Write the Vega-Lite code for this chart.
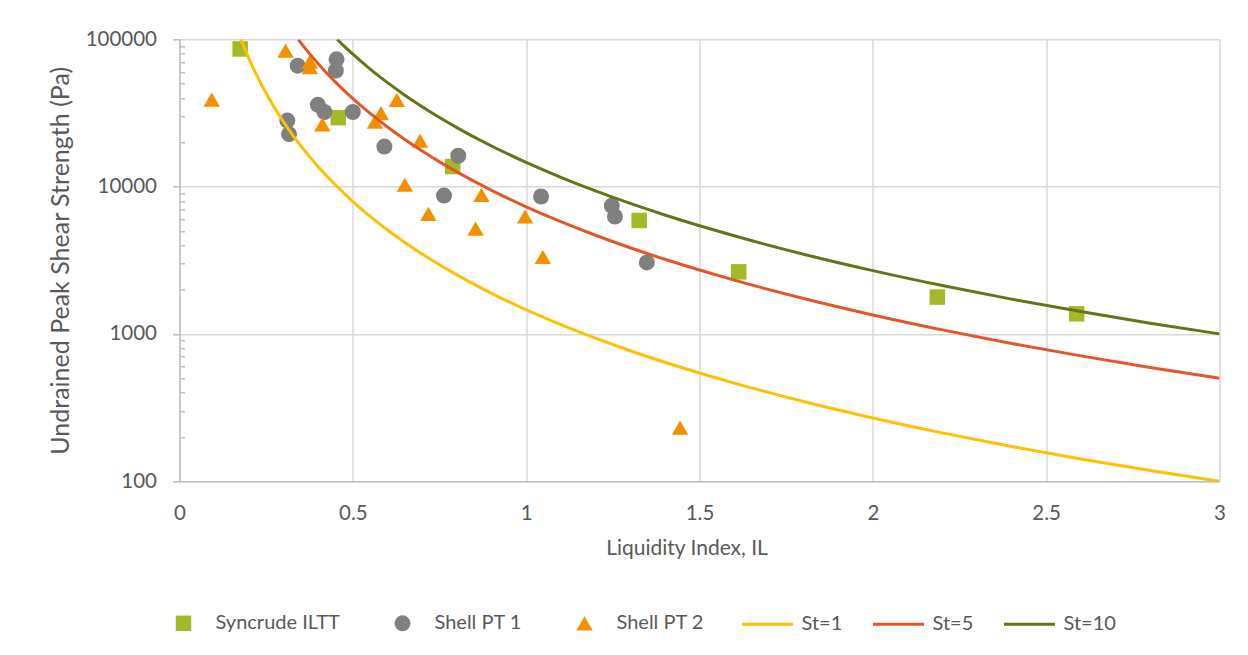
{
  "$schema": "https://vega.github.io/schema/vega-lite/v6.json",
  "width": 1040,
  "height": 442,
  "autosize": {"type": "none"},
  "padding": {"left": 179.5, "top": 39.3, "right": 28.5, "bottom": 173.7},
  "background": "white",
  "config": {
    "font": "Lato",
    "view": {"stroke": null},
    "axis": {
      "labelFont": "Lato",
      "labelFontSize": 20.5,
      "labelColor": "#595959",
      "titleFont": "Lato",
      "titleFontSize": 21,
      "titleFontWeight": "normal",
      "titleColor": "#595959",
      "gridColor": "#D9D9D9",
      "gridWidth": 1.5,
      "domainColor": "#BFBFBF",
      "domainWidth": 1.5,
      "tickColor": "#BFBFBF",
      "tickWidth": 1.5
    },
    "legend": {
      "labelFont": "Lato",
      "labelFontSize": 20,
      "labelColor": "#595959",
      "padding": 0
    }
  },
  "datasets": {
    "points": [
      {"series": "Syncrude ILTT", "IL": 0.175, "su": 86000},
      {"series": "Syncrude ILTT", "IL": 0.458, "su": 29400},
      {"series": "Syncrude ILTT", "IL": 0.788, "su": 13700},
      {"series": "Syncrude ILTT", "IL": 1.326, "su": 5890},
      {"series": "Syncrude ILTT", "IL": 1.613, "su": 2640},
      {"series": "Syncrude ILTT", "IL": 2.186, "su": 1780},
      {"series": "Syncrude ILTT", "IL": 2.588, "su": 1370},
      {"series": "Shell PT 1", "IL": 0.311, "su": 28100},
      {"series": "Shell PT 1", "IL": 0.316, "su": 22700},
      {"series": "Shell PT 1", "IL": 0.341, "su": 66200},
      {"series": "Shell PT 1", "IL": 0.399, "su": 35900},
      {"series": "Shell PT 1", "IL": 0.418, "su": 32100},
      {"series": "Shell PT 1", "IL": 0.451, "su": 61300},
      {"series": "Shell PT 1", "IL": 0.453, "su": 73100},
      {"series": "Shell PT 1", "IL": 0.5, "su": 32100},
      {"series": "Shell PT 1", "IL": 0.591, "su": 18700},
      {"series": "Shell PT 1", "IL": 0.763, "su": 8700},
      {"series": "Shell PT 1", "IL": 0.804, "su": 16200},
      {"series": "Shell PT 1", "IL": 1.043, "su": 8570},
      {"series": "Shell PT 1", "IL": 1.247, "su": 7410},
      {"series": "Shell PT 1", "IL": 1.256, "su": 6270},
      {"series": "Shell PT 1", "IL": 1.348, "su": 3060},
      {"series": "Shell PT 2", "IL": 0.093, "su": 39000},
      {"series": "Shell PT 2", "IL": 0.306, "su": 83700},
      {"series": "Shell PT 2", "IL": 0.376, "su": 70500},
      {"series": "Shell PT 2", "IL": 0.376, "su": 64600},
      {"series": "Shell PT 2", "IL": 0.412, "su": 26500},
      {"series": "Shell PT 2", "IL": 0.564, "su": 27600},
      {"series": "Shell PT 2", "IL": 0.581, "su": 31500},
      {"series": "Shell PT 2", "IL": 0.627, "su": 38800},
      {"series": "Shell PT 2", "IL": 0.65, "su": 10300},
      {"series": "Shell PT 2", "IL": 0.694, "su": 20500},
      {"series": "Shell PT 2", "IL": 0.718, "su": 6540},
      {"series": "Shell PT 2", "IL": 0.854, "su": 5180},
      {"series": "Shell PT 2", "IL": 0.871, "su": 8800},
      {"series": "Shell PT 2", "IL": 0.997, "su": 6270},
      {"series": "Shell PT 2", "IL": 1.048, "su": 3330},
      {"series": "Shell PT 2", "IL": 1.444, "su": 231}
    ],
    "curves": [
      {"curve": "St=1", "IL": 0.177, "su": 99800},
      {"curve": "St=1", "IL": 0.2, "su": 74100},
      {"curve": "St=1", "IL": 0.22, "su": 58720},
      {"curve": "St=1", "IL": 0.25, "su": 43000},
      {"curve": "St=1", "IL": 0.275, "su": 34070},
      {"curve": "St=1", "IL": 0.3, "su": 27550},
      {"curve": "St=1", "IL": 0.325, "su": 22660},
      {"curve": "St=1", "IL": 0.35, "su": 18920},
      {"curve": "St=1", "IL": 0.4, "su": 13660},
      {"curve": "St=1", "IL": 0.45, "su": 10250},
      {"curve": "St=1", "IL": 0.5, "su": 7920},
      {"curve": "St=1", "IL": 0.55, "su": 6278},
      {"curve": "St=1", "IL": 0.6, "su": 5078},
      {"curve": "St=1", "IL": 0.65, "su": 4177},
      {"curve": "St=1", "IL": 0.7, "su": 3486},
      {"curve": "St=1", "IL": 0.75, "su": 2946},
      {"curve": "St=1", "IL": 0.8, "su": 2517},
      {"curve": "St=1", "IL": 0.9, "su": 1888},
      {"curve": "St=1", "IL": 1.0, "su": 1460},
      {"curve": "St=1", "IL": 1.1, "su": 1157},
      {"curve": "St=1", "IL": 1.2, "su": 935.7},
      {"curve": "St=1", "IL": 1.3, "su": 769.7},
      {"curve": "St=1", "IL": 1.4, "su": 642.4},
      {"curve": "St=1", "IL": 1.5, "su": 543},
      {"curve": "St=1", "IL": 1.6, "su": 463.8},
      {"curve": "St=1", "IL": 1.8, "su": 348},
      {"curve": "St=1", "IL": 2.0, "su": 269.1},
      {"curve": "St=1", "IL": 2.2, "su": 213.2},
      {"curve": "St=1", "IL": 2.4, "su": 172.4},
      {"curve": "St=1", "IL": 2.6, "su": 141.9},
      {"curve": "St=1", "IL": 2.8, "su": 118.4},
      {"curve": "St=1", "IL": 3.0, "su": 100.1},
      {"curve": "St=5", "IL": 0.343, "su": 99350},
      {"curve": "St=5", "IL": 0.35, "su": 94600},
      {"curve": "St=5", "IL": 0.375, "su": 79950},
      {"curve": "St=5", "IL": 0.4, "su": 68300},
      {"curve": "St=5", "IL": 0.45, "su": 51250},
      {"curve": "St=5", "IL": 0.5, "su": 39600},
      {"curve": "St=5", "IL": 0.55, "su": 31390},
      {"curve": "St=5", "IL": 0.6, "su": 25390},
      {"curve": "St=5", "IL": 0.65, "su": 20885},
      {"curve": "St=5", "IL": 0.7, "su": 17430},
      {"curve": "St=5", "IL": 0.75, "su": 14730},
      {"curve": "St=5", "IL": 0.8, "su": 12585},
      {"curve": "St=5", "IL": 0.9, "su": 9440},
      {"curve": "St=5", "IL": 1.0, "su": 7300},
      {"curve": "St=5", "IL": 1.1, "su": 5785},
      {"curve": "St=5", "IL": 1.2, "su": 4679},
      {"curve": "St=5", "IL": 1.3, "su": 3849},
      {"curve": "St=5", "IL": 1.4, "su": 3212},
      {"curve": "St=5", "IL": 1.5, "su": 2715},
      {"curve": "St=5", "IL": 1.6, "su": 2319},
      {"curve": "St=5", "IL": 1.8, "su": 1740},
      {"curve": "St=5", "IL": 2.0, "su": 1346},
      {"curve": "St=5", "IL": 2.2, "su": 1066},
      {"curve": "St=5", "IL": 2.4, "su": 862},
      {"curve": "St=5", "IL": 2.6, "su": 710},
      {"curve": "St=5", "IL": 2.8, "su": 592},
      {"curve": "St=5", "IL": 3.0, "su": 500},
      {"curve": "St=10", "IL": 0.455, "su": 99750},
      {"curve": "St=10", "IL": 0.475, "su": 89780},
      {"curve": "St=10", "IL": 0.5, "su": 79200},
      {"curve": "St=10", "IL": 0.55, "su": 62780},
      {"curve": "St=10", "IL": 0.6, "su": 50780},
      {"curve": "St=10", "IL": 0.65, "su": 41770},
      {"curve": "St=10", "IL": 0.7, "su": 34860},
      {"curve": "St=10", "IL": 0.75, "su": 29460},
      {"curve": "St=10", "IL": 0.8, "su": 25170},
      {"curve": "St=10", "IL": 0.9, "su": 18880},
      {"curve": "St=10", "IL": 1.0, "su": 14600},
      {"curve": "St=10", "IL": 1.1, "su": 11570},
      {"curve": "St=10", "IL": 1.2, "su": 9357},
      {"curve": "St=10", "IL": 1.3, "su": 7697},
      {"curve": "St=10", "IL": 1.4, "su": 6424},
      {"curve": "St=10", "IL": 1.5, "su": 5430},
      {"curve": "St=10", "IL": 1.6, "su": 4638},
      {"curve": "St=10", "IL": 1.8, "su": 3480},
      {"curve": "St=10", "IL": 2.0, "su": 2691},
      {"curve": "St=10", "IL": 2.2, "su": 2132},
      {"curve": "St=10", "IL": 2.4, "su": 1724},
      {"curve": "St=10", "IL": 2.6, "su": 1419},
      {"curve": "St=10", "IL": 2.8, "su": 1184},
      {"curve": "St=10", "IL": 3.0, "su": 1001}
    ]
  },
  "encoding": {
    "x": {
      "field": "IL",
      "type": "quantitative",
      "scale": {"domain": [0, 3], "nice": false, "zero": false},
      "axis": {
        "title": "Liquidity Index, IL",
        "values": [0, 0.5, 1, 1.5, 2, 2.5, 3],
        "format": "~g",
        "ticks": false,
        "labelFlush": false,
        "labelPadding": 22,
        "titlePadding": 14,
        "titleX": 507
      }
    },
    "y": {
      "field": "su",
      "type": "quantitative",
      "scale": {"type": "log", "domain": [100, 100000], "nice": false},
      "axis": {
        "title": "Undrained Peak Shear Strength (Pa)",
        "titleFontSize": 25,
        "values": [100, 200, 300, 400, 500, 600, 700, 800, 900, 1000, 2000, 3000, 4000, 5000, 6000, 7000, 8000, 9000, 10000, 20000, 30000, 40000, 50000, 60000, 70000, 80000, 90000, 100000],
        "labelExpr": "indexof([100, 1000, 10000, 100000], datum.value) >= 0 ? datum.label : ''",
        "format": "d",
        "labelFlush": false,
        "gridOpacity": {"condition": {"test": "indexof([100, 1000, 10000, 100000], datum.value) >= 0", "value": 1}, "value": 0},
        "tickSize": {"condition": {"test": "indexof([100, 1000, 10000, 100000], datum.value) >= 0", "value": 7}, "value": -5},
        "labelPadding": 16,
        "titlePadding": 12
      }
    }
  },
  "layer": [
    {
      "data": {"name": "points"},
      "mark": {"type": "point", "filled": true, "opacity": 1, "strokeWidth": 0},
      "encoding": {
        "fill": {
          "field": "series",
          "type": "nominal",
          "scale": {"domain": ["Syncrude ILTT", "Shell PT 1", "Shell PT 2"], "range": ["#A5B829", "#808080", "#F29000"]},
          "legend": {"title": null, "orient": "none", "legendX": -6, "legendY": 574, "direction": "horizontal", "columns": 3, "labelOffset": 22, "columnPadding": 52, "symbolStrokeWidth": 0}
        },
        "shape": {
          "field": "series",
          "type": "nominal",
          "scale": {"domain": ["Syncrude ILTT", "Shell PT 1", "Shell PT 2"], "range": ["square", "circle", "triangle-up"]},
          "legend": {"title": null, "orient": "none", "legendX": -6, "legendY": 574, "direction": "horizontal", "columns": 3, "labelOffset": 22, "columnPadding": 52, "symbolStrokeWidth": 0}
        },
        "size": {
          "field": "series",
          "type": "nominal",
          "scale": {"domain": ["Syncrude ILTT", "Shell PT 1", "Shell PT 2"], "range": [240, 270, 300]},
          "legend": {"title": null, "orient": "none", "legendX": -6, "legendY": 574, "direction": "horizontal", "columns": 3, "labelOffset": 22, "columnPadding": 52, "symbolStrokeWidth": 0}
        }
      }
    },
    {
      "data": {"name": "curves"},
      "mark": {"type": "line", "strokeWidth": 3, "clip": true, "interpolate": "monotone"},
      "encoding": {
        "stroke": {
          "field": "curve",
          "type": "nominal",
          "scale": {"domain": ["St=1", "St=5", "St=10"], "range": ["#FFC000", "#E2572A", "#667418"]},
          "legend": {"title": null, "orient": "none", "legendX": 561, "legendY": 558, "direction": "horizontal", "columns": 3, "symbolType": "stroke", "symbolSize": 2601, "symbolStrokeWidth": 3, "labelOffset": 7, "columnPadding": 24}
        }
      }
    }
  ]
}
